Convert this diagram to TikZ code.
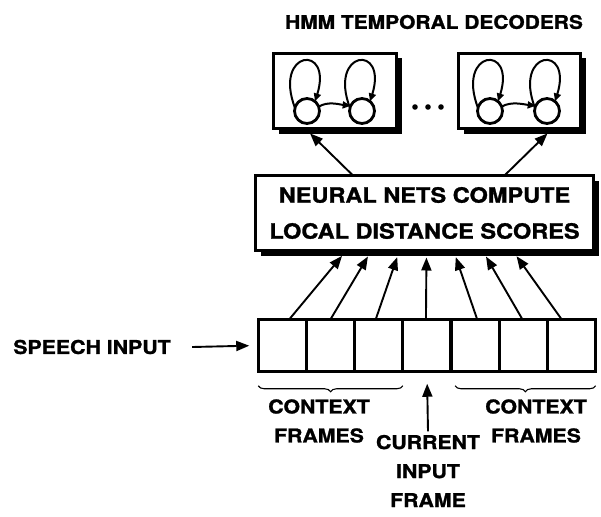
\documentclass[tikz,border=0pt]{standalone}
\usepackage{fontspec}
\setmainfont{TeX Gyre Heros}[FakeStretch=1.12,BoldFeatures={FakeBold=1.3}]
\usetikzlibrary{positioning,arrows.meta,shadows,decorations.pathreplacing}

\begin{document}
\begin{tikzpicture}[x=1pt,y=-1pt,font=\bfseries,
	shadowbox/.style={draw,line width=3.2pt,fill=white,inner sep=0pt,outer sep=0pt,
		drop shadow={shadow xshift=5pt,shadow yshift=-5pt,opacity=1,fill=black}},
	state/.style={circle,draw,line width=2.8pt,minimum size=25pt,inner sep=0pt,outer sep=0pt},
	cell/.style={draw,line width=3.2pt,minimum width=48.2pt,minimum height=52.5pt,inner sep=0pt,outer sep=0pt},
	lbl/.style={font=\fontsize{19}{29}\bfseries\selectfont,align=center},
	tip/.style={-{Triangle[length=13pt,width=10pt]},line width=1.9pt},
	looptip/.style={-{Triangle[length=8pt,width=7pt]},line width=2pt},
	brace/.style={decorate,decoration={brace,mirror,amplitude=6pt},line width=1.1pt}]
	\useasboundingbox (0,0) rectangle (601,516);
	% decoders
	\node[font=\fontsize{18.7}{22}\bfseries\selectfont] (title) at (434,22) {HMM TEMPORAL DECODERS};
	\node[shadowbox,minimum width=123pt,minimum height=75pt] (dec1) at (335,91) {};
	\node[shadowbox,minimum width=122pt,minimum height=75pt] (dec2) at (519.5,91) {};
	\node[state] (s11) at (307,111) {};
	\node[state] (s12) at (362,111) {};
	\node[state] (s21) at (490,111) {};
	\node[state] (s22) at (547,111) {};
	\foreach \s in {s11,s12,s21,s22}
		\draw[looptip] (\s.165) .. controls +(-22,-58) and +(18,-58) .. (\s.50);
	\draw[looptip] (s11.20) .. controls +(9,-6) and +(-10,-1) .. (s12.155);
	\draw[looptip] (s21.20) .. controls +(9,-6) and +(-10,-1) .. (s22.155);
	\foreach \x in {415,428,441}
		\fill (\x,107) circle (2.8);
	% neural nets
	\node[shadowbox,minimum width=338pt,minimum height=75pt,
		font=\fontsize{21}{36}\bfseries\selectfont,align=center] (nn) at (424.5,213)
		{NEURAL NETS COMPUTE\\LOCAL DISTANCE SCORES};
	\draw[tip,shorten >=7pt] ([xshift=-71.5pt]nn.north) -- ([xshift=-30pt]dec1.south);
	\draw[tip,shorten >=7pt] ([xshift=80pt]nn.north) -- ([xshift=33pt]dec2.south);
	% input frames
	\node[cell] (f1) at (282.35,345.5) {};
	\foreach \i [count=\j] in {2,...,7}
		\node[cell,right=0pt of f\j] (f\i) {};
	\foreach \i/\a/\b in {1/7/-78,2/0/-53,3/-3/-25,4/-1/2,5/2/29,6/-1/58,7/-10/88}
		\draw[tip,shorten >=7pt] ([xshift=\a pt]f\i.north) -- ([xshift=\b pt]nn.south);
	\node[lbl] (speech) at (92,347) {SPEECH INPUT};
	\draw[tip,shorten >=9pt] ([xshift=18pt]speech.east) -- (f1.west);
	\draw[brace] ([yshift=-14pt]f1.south west) -- ([yshift=-14pt]f3.south east);
	\draw[brace] ([xshift=4pt,yshift=-14pt]f5.south west) -- ([yshift=-14pt]f7.south east);
	\node[lbl] (ctxl) at (319,421) {CONTEXT\\FRAMES};
	\node[lbl] (ctxr) at (536,421) {CONTEXT\\FRAMES};
	\node[lbl] (cur) at (428,471) {CURRENT\\INPUT\\FRAME};
	\draw[tip,shorten >=12pt] (cur.north) -- (f4.south);
\end{tikzpicture}
\end{document}
